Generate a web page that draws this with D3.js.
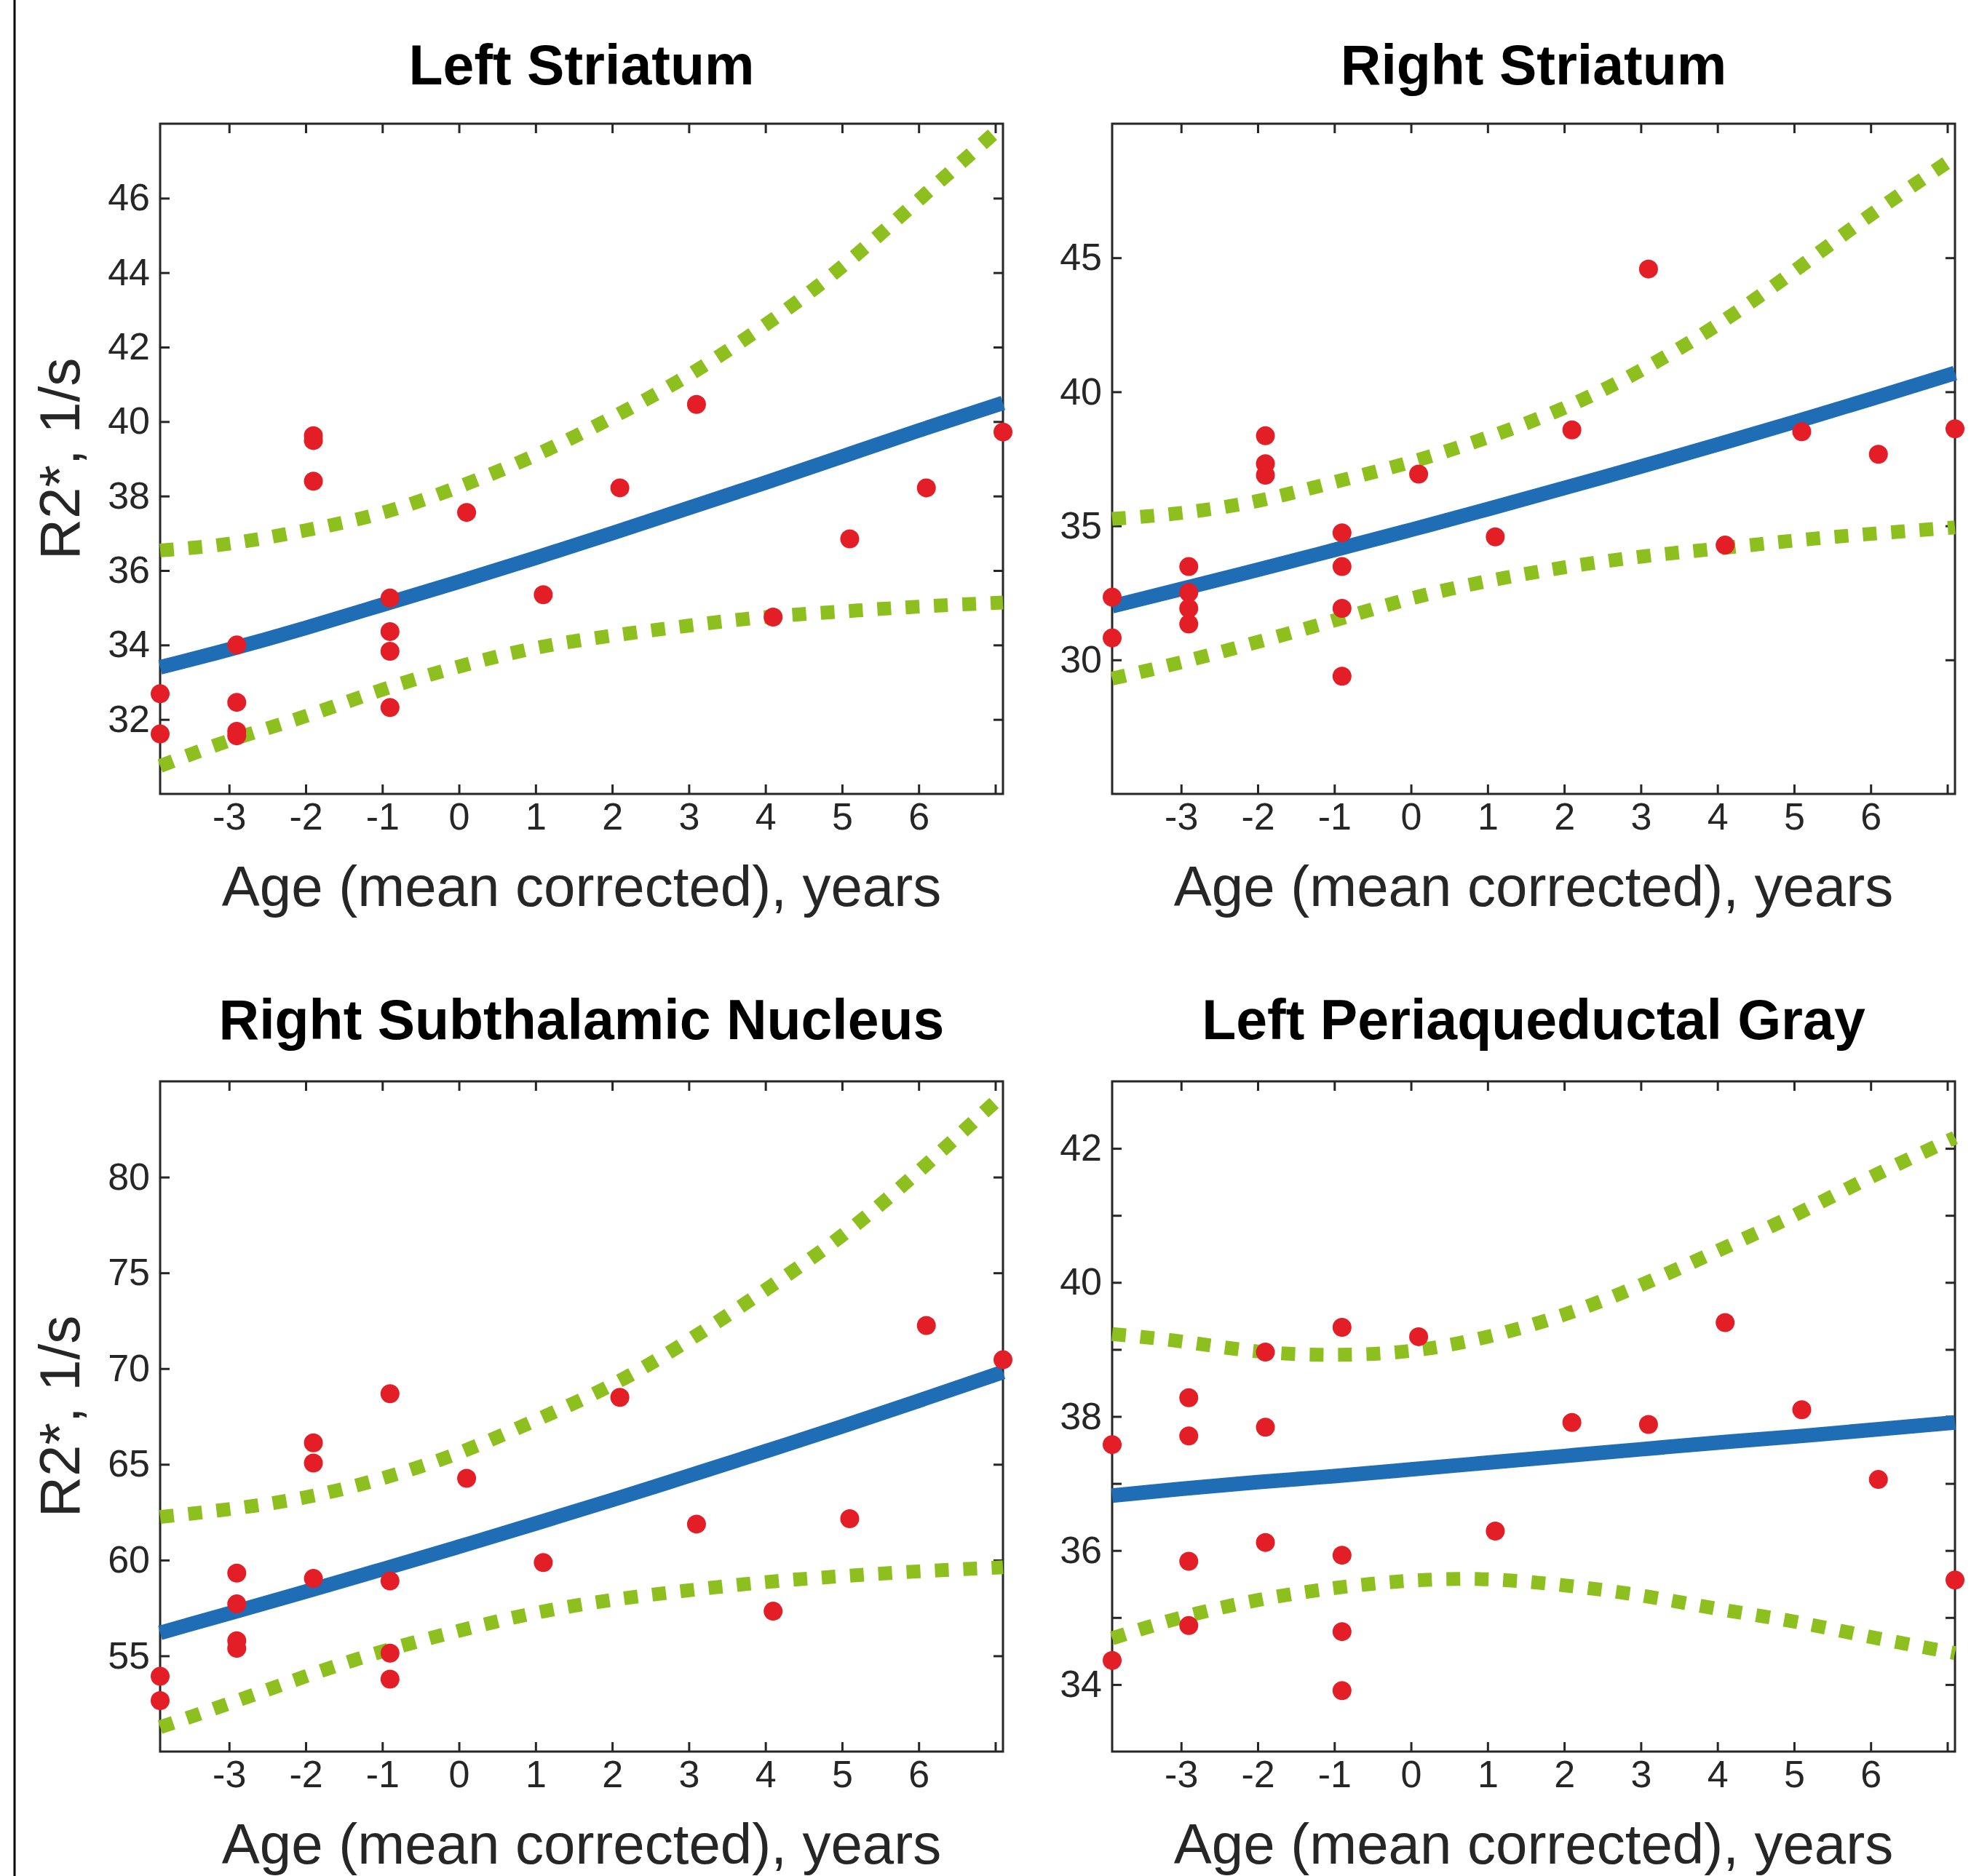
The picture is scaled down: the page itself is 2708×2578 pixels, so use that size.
<!DOCTYPE html>
<html>
<head>
<meta charset="utf-8">
<script src="https://cdn.jsdelivr.net/npm/d3@7"></script>
<style>
  body { margin: 0; background: #fff; }
  svg { display: block; }
</style>
</head>
<body>
<div id="chart"></div>
<script>
// ages of the 21 subjects (mean corrected), shared by every panel
const subjectAges = [-3.9, -3.9, -2.9, -2.9, -2.9, -2.9, -1.9, -1.9, -1.9, -0.9, -0.9, -0.9, -0.9, 0.1, 1.1, 2.1, 3.1, 4.1, 5.1, 6.1, 7.1]

const curveAges = [-3.9, -3, -2, -1, 0, 1, 2, 3, 4, 5, 6, 7.1]

const ageTicks = [-3, -2, -1, 0, 1, 2, 3, 4, 5, 6, 7]
const ageTickLabels = [-3, -2, -1, 0, 1, 2, 3, 4, 5, 6]

// Left Striatum
const leftStriatumValues = [32.69, 31.61, 34.0, 32.46, 31.68, 31.56, 39.62, 39.49, 38.4, 35.26, 34.36, 33.83, 32.32, 37.56, 35.35, 38.22, 40.46, 34.75, 36.85, 38.22, 39.72]
const leftStriatumFit = [33.4, 33.88, 34.46, 35.08, 35.7, 36.34, 37.0, 37.68, 38.36, 39.06, 39.76, 40.5]
const leftStriatumLower = [30.75, 31.43, 32.09, 32.8, 33.42, 33.92, 34.25, 34.52, 34.75, 34.9, 35.03, 35.14]
const leftStriatumUpper = [36.54, 36.72, 37.08, 37.55, 38.25, 39.1, 40.11, 41.25, 42.6, 44.16, 45.95, 47.95]
const leftStriatumTicks = [32, 34, 36, 38, 40, 42, 44, 46]

// Right Striatum
const rightStriatumValues = [32.34, 30.82, 33.48, 32.51, 31.92, 31.34, 38.36, 37.32, 36.89, 34.74, 33.48, 31.92, 29.39, 36.93, 34.59, 38.58, 44.58, 34.28, 38.51, 37.67, 38.62]
const rightStriatumFit = [32.0, 32.64, 33.36, 34.1, 34.85, 35.62, 36.41, 37.21, 38.03, 38.87, 39.73, 40.7]
const rightStriatumLower = [29.3, 29.91, 30.67, 31.47, 32.29, 32.94, 33.45, 33.85, 34.15, 34.45, 34.7, 34.94]
const rightStriatumUpper = [35.26, 35.48, 35.93, 36.63, 37.38, 38.3, 39.4, 40.8, 42.5, 44.5, 46.6, 48.75]
const rightStriatumTicks = [30, 35, 40, 45]

// Right Subthalamic Nucleus
const subthalamicValues = [53.93, 52.66, 59.32, 57.71, 55.79, 55.39, 66.12, 65.07, 59.04, 68.69, 58.91, 55.14, 53.78, 64.27, 59.87, 68.5, 61.88, 57.33, 62.16, 72.25, 70.46]
const subthalamicFit = [56.2, 57.22, 58.36, 59.52, 60.7, 61.91, 63.14, 64.4, 65.68, 66.98, 68.32, 69.82]
const subthalamicLower = [51.27, 52.51, 53.93, 55.23, 56.31, 57.24, 57.92, 58.42, 58.85, 59.16, 59.41, 59.62]
const subthalamicUpper = [62.25, 62.66, 63.28, 64.27, 65.6, 67.3, 69.16, 71.48, 74.11, 76.95, 80.3, 84.3]
const subthalamicTicks = [55, 60, 65, 70, 75, 80]

// Left Periaqueductal Gray
const periaqueductalValues = [37.58, 34.36, 38.28, 37.71, 35.84, 34.88, 38.96, 37.84, 36.12, 39.33, 35.93, 34.79, 33.91, 39.19, 36.29, 37.91, 37.88, 39.4, 38.1, 37.06, 35.56]
const periaqueductalFit = [36.82, 36.92, 37.02, 37.11, 37.21, 37.31, 37.41, 37.51, 37.61, 37.7, 37.8, 37.91]
const periaqueductalLower = [34.69, 35.0, 35.26, 35.44, 35.55, 35.57, 35.48, 35.33, 35.13, 34.94, 34.71, 34.47]
const periaqueductalUpper = [39.23, 39.12, 38.97, 38.92, 38.98, 39.19, 39.52, 39.96, 40.47, 41.0, 41.57, 42.16]
const periaqueductalTicks = [34, 35, 36, 37, 38, 39, 40, 41, 42]
const periaqueductalTickLabels = [34, 36, 38, 40, 42]

const panels = [
  { title: 'Left Striatum', col: 0, row: 0, yDomain: [30, 48], values: leftStriatumValues, fit: leftStriatumFit, lower: leftStriatumLower, upper: leftStriatumUpper, ticks: leftStriatumTicks, labels: leftStriatumTicks, yTitle: true },
  { title: 'Right Striatum', col: 1, row: 0, yDomain: [25, 50], values: rightStriatumValues, fit: rightStriatumFit, lower: rightStriatumLower, upper: rightStriatumUpper, ticks: rightStriatumTicks, labels: rightStriatumTicks, yTitle: false },
  { title: 'Right Subthalamic Nucleus', col: 0, row: 1, yDomain: [50, 85], values: subthalamicValues, fit: subthalamicFit, lower: subthalamicLower, upper: subthalamicUpper, ticks: subthalamicTicks, labels: subthalamicTicks, yTitle: true },
  { title: 'Left Periaqueductal Gray', col: 1, row: 1, yDomain: [33, 43], values: periaqueductalValues, fit: periaqueductalFit, lower: periaqueductalLower, upper: periaqueductalUpper, ticks: periaqueductalTicks, labels: periaqueductalTickLabels, yTitle: false }
]

const width = 2708
const height = 2578

const plotLeft = [220, 1528]
const plotTop = [170, 1486]
const titleBaseline = [116, 1428]
const innerWidth = 1158
const innerHeight = 921

const axisColor = '#262626'
const font = '"Liberation Sans", Arial, Helvetica, sans-serif'

const svg = d3.select('#chart')
  .append('svg')
  .attr('width', width)
  .attr('height', height)

// thin rule on the far left of the figure
svg.append('line')
  .attr('x1', 20)
  .attr('x2', 20)
  .attr('y1', 0)
  .attr('y2', height)
  .attr('stroke', '#000')
  .attr('stroke-width', 3)

const x = d3.scaleLinear()
  .domain([-3.9, 7.1])
  .range([0, innerWidth])

const drawPanel = function(p) {
  const g = svg.append('g')
    .attr('transform', `translate(${plotLeft[p.col]},${plotTop[p.row]})`)

  const y = d3.scaleLinear()
    .domain(p.yDomain)
    .range([innerHeight, 0])

  const styleAxis = sel => {
    sel.attr('font-family', font)
      .attr('font-size', 52)
      .style('color', axisColor)
    sel.selectAll('.tick line').attr('stroke-width', 3)
    // ticks without a label keep only their line
    sel.selectAll('.tick text').filter(function() { return this.textContent === '' }).remove()
    sel.select('.domain').remove()
  }

  g.append('g')
    .attr('transform', `translate(0,${innerHeight})`)
    .call(d3.axisBottom(x)
      .tickValues(ageTicks)
      .tickSize(-13)
      .tickPadding(12)
      .tickFormat(d => ageTickLabels.includes(d) ? String(d) : ''))
    .call(styleAxis)

  g.append('g')
    .call(d3.axisTop(x).tickValues(ageTicks).tickSize(-13).tickFormat(''))
    .call(styleAxis)

  g.append('g')
    .call(d3.axisLeft(y)
      .tickValues(p.ticks)
      .tickSize(-13)
      .tickPadding(14)
      .tickFormat(d => p.labels.includes(d) ? String(d) : ''))
    .call(styleAxis)

  g.append('g')
    .attr('transform', `translate(${innerWidth},0)`)
    .call(d3.axisRight(y).tickValues(p.ticks).tickSize(-13).tickFormat(''))
    .call(styleAxis)

  g.append('rect')
    .attr('width', innerWidth)
    .attr('height', innerHeight)
    .attr('fill', 'none')
    .attr('stroke', axisColor)
    .attr('stroke-width', 3)

  const line = d3.line()
    .x((d, i) => x(curveAges[i]))
    .y(d => y(d))
    .curve(d3.curveNatural)

  // confidence band
  g.selectAll('.band')
    .data([p.lower, p.upper])
    .join('path')
    .attr('class', 'band')
    .attr('d', line)
    .attr('fill', 'none')
    .attr('stroke', '#8dc01e')
    .attr('stroke-width', 19)
    .attr('stroke-dasharray', '19 20')

  // fitted curve
  g.append('path')
    .attr('d', line(p.fit))
    .attr('fill', 'none')
    .attr('stroke', '#1f6db5')
    .attr('stroke-width', 20)

  g.selectAll('.dot')
    .data(p.values)
    .join('circle')
    .attr('class', 'dot')
    .attr('cx', (d, i) => x(subjectAges[i]))
    .attr('cy', d => y(d))
    .attr('r', 13)
    .attr('fill', '#e41e26')

  g.append('text')
    .attr('x', innerWidth / 2)
    .attr('y', titleBaseline[p.row] - plotTop[p.row])
    .attr('text-anchor', 'middle')
    .attr('font-family', font)
    .attr('font-weight', 'bold')
    .attr('font-size', 77)
    .attr('fill', '#000')
    .text(p.title)

  g.append('text')
    .attr('x', innerWidth / 2)
    .attr('y', innerHeight + 154)
    .attr('text-anchor', 'middle')
    .attr('font-family', font)
    .attr('font-size', 78)
    .attr('fill', axisColor)
    .text('Age (mean corrected), years')

  if (p.yTitle) {
    g.append('text')
      .attr('transform', `translate(-111,${innerHeight / 2}) rotate(-90)`)
      .attr('text-anchor', 'middle')
      .attr('font-family', font)
      .attr('font-size', 78)
      .attr('fill', axisColor)
      .text('R2*, 1/s')
  }
}

panels.forEach(drawPanel)
</script>
</body>
</html>
